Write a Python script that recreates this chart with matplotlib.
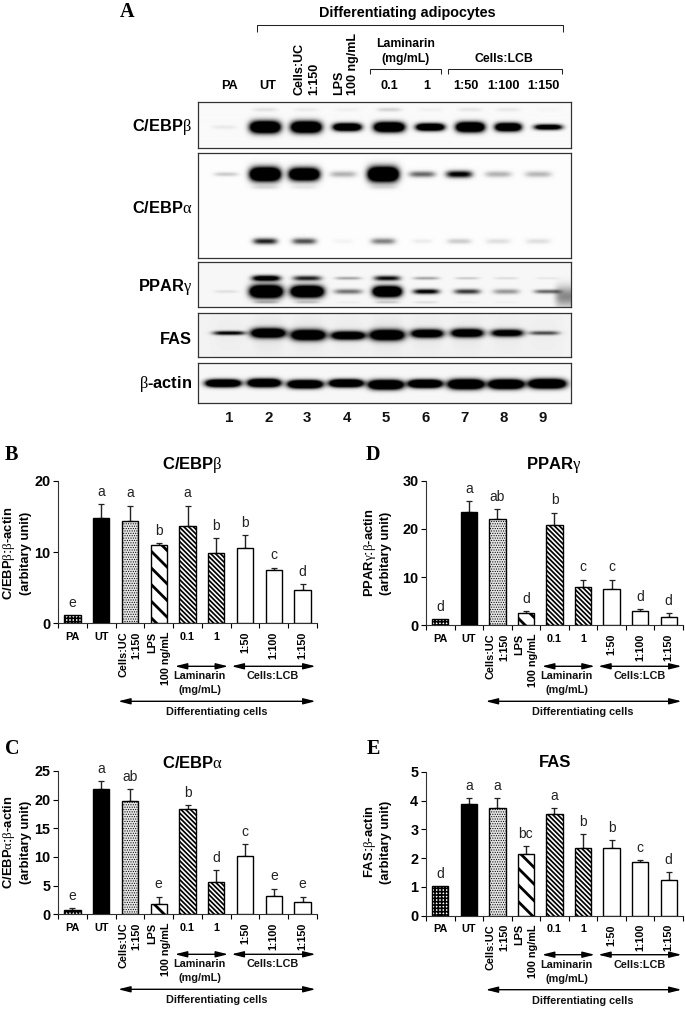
import numpy as np
import matplotlib
matplotlib.use("Agg")
import matplotlib.pyplot as plt

W, H = 685, 1009
plt.rcParams['font.family'] = ['Liberation Sans', 'DejaVu Sans']
plt.rcParams['mathtext.fontset'] = 'custom'
plt.rcParams['mathtext.it'] = 'Liberation Serif'
plt.rcParams['mathtext.rm'] = 'Liberation Serif'
plt.rcParams['mathtext.default'] = 'it'

# ---- bar data ----
categories = ['PA', 'UT', 'Cells:UC\n1:150', 'LPS\n100 ng/mL', '0.1', '1', '1:50', '1:100', '1:150']
cebpb_vals = [1.1, 14.8, 14.3, 11.0, 13.7, 9.9, 10.5, 7.5, 4.7]
cebpb_errs = [0.0, 1.9, 2.2, 0.3, 2.8, 2.0, 1.9, 0.3, 0.8]
cebpb_sig = ['e', 'a', 'a', 'b', 'a', 'b', 'b', 'c', 'd']
pparg_vals = [1.25, 23.6, 22.0, 2.5, 20.8, 7.9, 7.5, 3.0, 1.7]
pparg_errs = [0.0, 2.2, 2.1, 0.4, 2.6, 1.6, 2.0, 0.3, 0.8]
pparg_sig = ['d', 'a', 'ab', 'd', 'b', 'c', 'c', 'd', 'd']
cebpa_vals = [0.7, 21.9, 19.8, 1.75, 18.4, 5.7, 10.1, 3.2, 2.15]
cebpa_errs = [0.4, 1.3, 2.0, 1.35, 0.6, 2.0, 2.1, 1.3, 0.95]
cebpa_sig = ['e', 'a', 'ab', 'e', 'b', 'd', 'c', 'e', 'e']
fas_vals = [1.04, 3.87, 3.74, 2.15, 3.52, 2.35, 2.35, 1.87, 1.24]
fas_errs = [0.0, 0.21, 0.34, 0.27, 0.22, 0.48, 0.27, 0.07, 0.28]
fas_sig = ['d', 'a', 'a', 'bc', 'a', 'b', 'b', 'c', 'd']

bar_faces = ['white', 'black', '#e4e4e4', 'white', 'white', 'white', 'white', 'white', 'white']
bar_hatches = ['+++++', None, '.......', '\\\\', '\\' * 7, '\\' * 7, None, None, None]
hatch_widths = [1.2, 0.5, 0.5, 2.0, 1.25, 1.25, 0.5, 0.5, 0.5]

# ---- western blot band data ----
lane_numbers = ['1', '2', '3', '4', '5', '6', '7', '8', '9']
blot_names = ['C/EBP$\\beta$', 'C/EBP$\\alpha$', 'PPAR$\\gamma$', 'FAS', '$\\beta$-actin']
blot_tops = [101.7, 153, 261.7, 312.7, 363]
blot_bottoms = [148, 258, 306.7, 356.7, 403]
blot_label_y = [127, 208, 287, 339, 384]
blot_bg = [0.98, 0.99, 0.97, 0.95, 0.97]

# each band row: y, half-height, x, half-width, strength
b_x = [224, 265, 306, 347, 389, 430, 470, 508, 548]
b_main = (127.3, [2, 5.7, 5.5, 3.7, 4.7, 3.5, 4.7, 4.0, 2.7], b_x,
          [12, 15, 15, 14, 15, 14, 14, 13, 14],
          [0.07, 2.2, 2.2, 2.0, 2.2, 2.0, 2.2, 2.0, 1.5])
b_faint = (110, [2] * 9, b_x, [12] * 9, [0, 0.1, 0.06, 0.04, 0.16, 0.04, 0.08, 0.07, 0.02])

a_x = [226, 265, 304, 343, 383, 422, 459, 498, 538]
a_top = (174, [2, 6.5, 6, 3, 7, 3, 3.5, 3, 3], a_x,
         [12, 15, 15, 13, 15, 13, 13, 13, 13],
         [0.2, 2.4, 2.2, 0.3, 2.4, 0.6, 1.1, 0.3, 0.28])
a_shadow = (187, [2] * 9, a_x, [13] * 9, [0, 0.12, 0.08, 0, 0.1, 0, 0, 0, 0])
a_low = (241, [3, 3, 3, 2, 3, 2, 2.5, 2.5, 2.5], a_x,
         [10, 12, 12, 10, 12, 10, 12, 12, 12],
         [0, 0.9, 0.7, 0.04, 0.5, 0.07, 0.2, 0.12, 0.12])

p_x = [226, 266, 307, 348, 387, 426, 467, 506, 547]
p_up = (277.7, [1, 2.8, 2.5, 1.5, 2.5, 1.5, 1.2, 1.2, 1], p_x, [12, 14, 14, 13, 13, 13, 12, 12, 12],
        [0, 1.4, 0.9, 0.35, 1.0, 0.35, 0.2, 0.12, 0.08])
p_mid = (291, [1.5, 6, 5.5, 2.5, 5, 2.5, 2.5, 2.5, 2], p_x, [12, 16, 16, 14, 14, 13, 13, 13, 13],
         [0.1, 2.4, 2.4, 0.55, 2.4, 1.1, 0.8, 0.4, 0.6])
p_low = (301.7, [1.3] * 9, p_x, [12] * 9, [0, 0.25, 0.2, 0.04, 0.18, 0.1, 0.03, 0.03, 0])
p_smudge = (296, [10], [566], [11], [0.45])

f_x = [229, 268, 308, 348, 387, 427, 467, 507, 544]
f_main = ([332.5, 332.5, 334.5, 335, 334.5, 333, 332.5, 332.5, 332.5],
          [2, 4.5, 5, 4, 5, 4, 4, 3.5, 2], f_x,
          [16, 17, 17, 17, 17, 16, 16, 16, 15],
          [1.1, 2.0, 2.0, 1.8, 2.0, 1.8, 1.8, 1.5, 0.7])
f_smear = (334, [18] * 9, f_x, [15] * 9, [0.02, 0.06, 0.05, 0.03, 0.06, 0.04, 0.04, 0.03, 0.02])

ac_x = [223, 264, 305, 346, 385.7, 425, 465.7, 506, 547]
ac_main = ([383, 382.7, 384, 383, 384.5, 383.5, 384, 384, 383.5],
           [3.5, 3.8, 3.8, 3.6, 4.4, 3.8, 4.6, 4.4, 4.4], ac_x,
           [17, 16, 17, 16.5, 17, 16.5, 17.5, 17, 18], [2.4] * 9)

blot_rows = [[b_main, b_faint], [a_top, a_shadow, a_low], [p_up, p_mid, p_low, p_smudge],
             [f_main, f_smear], [ac_main]]

fig = plt.figure(figsize=(W / 100, H / 100), dpi=100, facecolor='white')


def px_axes(x0, yt, x1, yb):
    return fig.add_axes([x0 / W, 1 - yb / H, (x1 - x0) / W, (yb - yt) / H])


def ftext(x, y, s, **kw):
    kw.setdefault('ha', 'center')
    kw.setdefault('va', 'center')
    return fig.text(x / W, 1 - y / H, s, **kw)


def fline(xs, ys, lw=0.75, color='#222222'):
    fig.add_artist(plt.Line2D([x / W for x in xs], [1 - y / H for y in ys], color=color,
                              lw=lw, solid_capstyle='butt', solid_joinstyle='miter'))


# ---- panel A ----
BX0, BX1 = 198, 571
for name, t, b, ly, bg, rows in zip(blot_names, blot_tops, blot_bottoms, blot_label_y, blot_bg, blot_rows):
    ax = px_axes(BX0, t, BX1, b)
    xg, yg = np.meshgrid(np.arange(BX0, BX1, 0.5), np.arange(t, b, 0.5))
    dark = np.zeros_like(xg)
    for ys, hs, xs, ws, ss in rows:
        ys_arr = np.full(len(xs), ys) if np.isscalar(ys) else np.array(ys)
        for y_c, h_c, x_c, w_c, s_c in zip(ys_arr, hs, xs, ws, ss):
            dark += s_c * np.exp(-((xg - x_c) / w_c) ** 4 - ((yg - y_c) / h_c) ** 2)
    img = bg * (1 - np.clip(dark, 0, 1))
    ax.imshow(img, cmap='gray', vmin=0, vmax=1, extent=(BX0, BX1, b, t), aspect='auto',
              interpolation='bilinear')
    ax.set_xticks([])
    ax.set_yticks([])
    for sp in ax.spines.values():
        sp.set_linewidth(0.9)
        sp.set_color('#333333')
    ftext(192, ly, name, ha='right', fontsize=11.8, fontweight='bold')

lane_label_x = [229, 268.3, 307.3, 346.7, 386, 425.3, 464.3, 503.7, 542.7]
for x, s in zip(lane_label_x, lane_numbers):
    ftext(x, 418, s, fontsize=10.8, fontweight='bold', color='#111111')

ftext(127, 12, 'A', family='Liberation Serif', fontweight='bold', fontsize=14.5)
ftext(407, 13, 'Differentiating adipocytes', fontsize=10.4, fontweight='bold')
fline([257, 257, 563, 563], [32, 24.5, 24.5, 32])
fline([370, 370, 441, 441], [74.5, 68.5, 68.5, 74.5])
fline([448, 448, 562, 562], [74.5, 68.5, 68.5, 74.5])
ftext(406, 44, 'Laminarin', fontsize=8.8, fontweight='bold')
ftext(406, 59, '(mg/mL)', fontsize=8.8, fontweight='bold')
ftext(504, 59, 'Cells:LCB', fontsize=8.8, fontweight='bold')
for x, s in zip([229, 268, 389, 427, 466, 504, 543], ['PA', 'UT', '0.1', '1', '1:50', '1:100', '1:150']):
    ftext(x, 86, s, fontsize=9.2, fontweight='bold')
ftext(307, 95, 'Cells:UC\n1:150', rotation=90, va='bottom', ma='left', fontsize=9, fontweight='bold', linespacing=1.25)
ftext(346, 95, 'LPS\n100 ng/mL', rotation=90, va='bottom', ma='left', fontsize=9, fontweight='bold', linespacing=1.25)


# ---- bar panels ----
def panel(rect, ymax, yticks, vals, errs, sig, title, title_xy, ylabel, ylabel_xy, letter, letter_xy, base):
    ax = px_axes(*rect)
    ax_h = rect[3] - rect[1]
    pos = np.arange(len(vals)) + 0.5
    for i, (p, v, e) in enumerate(zip(pos, vals, errs)):
        plt.rcParams['hatch.linewidth'] = hatch_widths[i]
        ax.bar(p, v, width=0.57, facecolor=bar_faces[i], edgecolor='black', linewidth=1.0,
               hatch=bar_hatches[i], zorder=3)
        if e > 0:
            ax.errorbar(p, v, yerr=[[0], [e]], color='#222222', capsize=2.4, elinewidth=1.0,
                        capthick=0.9, zorder=2)
        ax.annotate(sig[i], (p, v + e), xytext=(0, 8.8), textcoords='offset points', ha='center',
                    va='center', fontsize=10, color='#222222', annotation_clip=False)
    ax.set_xlim(0, 9)
    ax.set_ylim(0, ymax)
    ax.set_yticks(yticks)
    ax.set_xticks(np.arange(10))
    ax.set_xticklabels([])
    ax.set_xticks(pos, categories, minor=True)
    ax.tick_params(axis='y', length=3.5, width=0.8, pad=2, labelsize=10.4)
    ax.tick_params(axis='x', which='major', length=3.5, width=0.8)
    ax.tick_params(axis='x', which='minor', length=0, pad=6, labelsize=7.8)
    for t in ax.get_yticklabels():
        t.set_fontweight('bold')
    for i, t in enumerate(ax.get_xticklabels(minor=True)):
        t.set_fontweight('bold')
        if i >= 2 and categories[i] not in ('0.1', '1'):
            t.set_rotation(90)
            t.set_ha('center')
            t.set_va('top')
            t.set_multialignment('right')
            t.set_linespacing(1.45)
    for s in ('top', 'right'):
        ax.spines[s].set_visible(False)
    for s in ('left', 'bottom'):
        ax.spines[s].set_linewidth(0.8)
        ax.spines[s].set_color('#333333')

    trans = ax.get_xaxis_transform()
    arrow = dict(arrowstyle='<|-|>,head_length=0.72,head_width=0.18', color='black', lw=1.0,
                 shrinkA=0, shrinkB=0, mutation_scale=10)
    for x0, x1, dy in [(4.06, 5.91, base), (6.03, 8.95, base), (2.09, 8.95, base + 35)]:
        ax.annotate('', xy=(x1, -dy / ax_h), xytext=(x0, -dy / ax_h), xycoords=trans, textcoords=trans,
                    arrowprops=arrow, annotation_clip=False)
    for x, s, dy in [(4.93, 'Laminarin', base + 10), (4.93, '(mg/mL)', base + 24),
                     (7.47, 'Cells:LCB', base + 10), (5.5, 'Differentiating cells', base + 46)]:
        ax.text(x, -dy / ax_h, s, transform=trans, ha='center', va='center', fontsize=7.8,
                fontweight='bold', clip_on=False, color='#111111')

    ftext(*title_xy, title, fontsize=12, fontweight='bold')
    ftext(*ylabel_xy, ylabel, rotation=90, fontsize=9.4, fontweight='bold', linespacing=1.25)
    ftext(*letter_xy, letter, family='Liberation Serif', fontweight='bold', fontsize=14.5)


panel((58, 480.7, 317, 623.3), 20, [0, 10, 20], cebpb_vals, cebpb_errs, cebpb_sig, 'C/EBP$\\beta$', (192, 465),
      'C/EBP$\\beta$:$\\beta$-actin\n(arbitary unit)', (16.5, 553), 'B', (11, 455), 43)
panel((426, 480.7, 683, 625.3), 30, [0, 10, 20, 30], pparg_vals, pparg_errs, pparg_sig, 'PPAR$\\gamma$', (554, 465),
      'PPAR$\\gamma$:$\\beta$-actin\n(arbitary unit)', (377, 553), 'D', (373, 455), 41)
panel((58, 771, 317, 914.3), 25, [0, 5, 10, 15, 20, 25], cebpa_vals, cebpa_errs, cebpa_sig, 'C/EBP$\\alpha$', (192.7, 762.7),
      'C/EBP$\\alpha$:$\\beta$-actin\n(arbitary unit)', (16.5, 842), 'C', (12, 749), 40)
panel((426, 771.7, 683, 915.7), 5, [0, 1, 2, 3, 4, 5], fas_vals, fas_errs, fas_sig, 'FAS', (555, 762.7),
      'FAS:$\\beta$-actin\n(arbitary unit)', (377, 842), 'E', (373, 749), 39)

fig.savefig('out.png', dpi=100)
